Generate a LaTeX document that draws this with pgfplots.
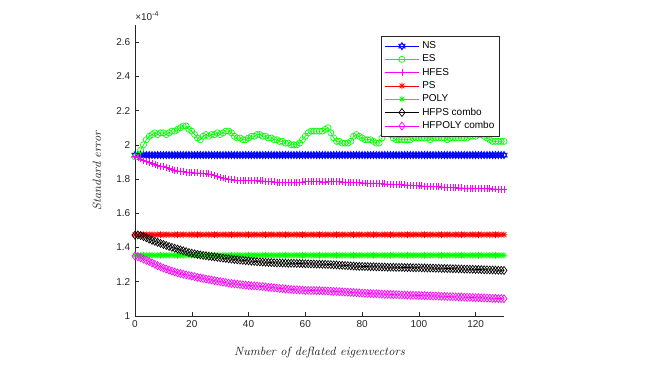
\documentclass[border=0pt]{standalone}
\usepackage{fontspec}
\usepackage{pgfplots}
\pgfplotsset{compat=1.18}
\usepackage{pgfplotstable}
\newfontfamily\arialfont{Liberation Sans}
\definecolor{axgray}{RGB}{38,38,38}
\definecolor{mgreen}{RGB}{0,255,0}
\definecolor{mmag}{RGB}{255,0,255}

% MATLAB-like markers
\pgfdeclareplotmark{hexagram}{%
  \pgfpathmoveto{\pgfqpointpolar{90}{\pgfplotmarksize}}%
  \pgfpathlineto{\pgfqpointpolar{210}{\pgfplotmarksize}}%
  \pgfpathlineto{\pgfqpointpolar{330}{\pgfplotmarksize}}%
  \pgfpathclose
  \pgfpathmoveto{\pgfqpointpolar{270}{\pgfplotmarksize}}%
  \pgfpathlineto{\pgfqpointpolar{30}{\pgfplotmarksize}}%
  \pgfpathlineto{\pgfqpointpolar{150}{\pgfplotmarksize}}%
  \pgfpathclose
  \pgfusepathqstroke}
\pgfdeclareplotmark{matstar}{%
  \pgfpathmoveto{\pgfqpoint{-\pgfplotmarksize}{0pt}}\pgfpathlineto{\pgfqpoint{\pgfplotmarksize}{0pt}}%
  \pgfpathmoveto{\pgfqpoint{0pt}{-\pgfplotmarksize}}\pgfpathlineto{\pgfqpoint{0pt}{\pgfplotmarksize}}%
  \pgfpathmoveto{\pgfqpoint{-.707\pgfplotmarksize}{-.707\pgfplotmarksize}}\pgfpathlineto{\pgfqpoint{.707\pgfplotmarksize}{.707\pgfplotmarksize}}%
  \pgfpathmoveto{\pgfqpoint{-.707\pgfplotmarksize}{.707\pgfplotmarksize}}\pgfpathlineto{\pgfqpoint{.707\pgfplotmarksize}{-.707\pgfplotmarksize}}%
  \pgfusepathqstroke}

% standard error, units of 1e-4
\pgfplotstableread{
x NS ES HFES PS POLY HFPS HFPOLY
0 1.94 1.93 1.930 1.475 1.355 1.472 1.350
1 1.94 1.94 1.925 1.475 1.355 1.474 1.346
2 1.94 1.97 1.918 1.475 1.355 1.470 1.340
3 1.94 2.00 1.910 1.475 1.355 1.464 1.332
4 1.94 2.03 1.903 1.475 1.355 1.457 1.325
5 1.94 2.05 1.897 1.475 1.355 1.449 1.318
6 1.94 2.06 1.890 1.475 1.355 1.442 1.310
7 1.94 2.07 1.886 1.475 1.355 1.436 1.302
8 1.94 2.06 1.881 1.475 1.355 1.430 1.294
9 1.94 2.07 1.876 1.475 1.355 1.424 1.287
10 1.94 2.07 1.872 1.475 1.355 1.418 1.280
11 1.94 2.06 1.866 1.475 1.355 1.412 1.274
12 1.94 2.07 1.862 1.475 1.355 1.406 1.268
13 1.94 2.08 1.857 1.475 1.355 1.401 1.262
14 1.94 2.08 1.852 1.475 1.355 1.396 1.257
15 1.94 2.09 1.848 1.475 1.355 1.391 1.252
16 1.94 2.10 1.846 1.475 1.355 1.386 1.248
17 1.94 2.11 1.843 1.475 1.355 1.381 1.244
18 1.94 2.11 1.841 1.475 1.355 1.376 1.240
19 1.94 2.09 1.840 1.475 1.355 1.371 1.237
20 1.94 2.08 1.838 1.475 1.355 1.367 1.233
21 1.94 2.06 1.836 1.475 1.355 1.363 1.230
22 1.94 2.04 1.836 1.475 1.355 1.360 1.226
23 1.94 2.03 1.835 1.475 1.355 1.357 1.223
24 1.94 2.05 1.833 1.475 1.355 1.354 1.219
25 1.94 2.06 1.831 1.475 1.355 1.352 1.216
26 1.94 2.05 1.830 1.475 1.355 1.349 1.213
27 1.94 2.06 1.827 1.475 1.355 1.347 1.210
28 1.94 2.06 1.822 1.475 1.355 1.345 1.207
29 1.94 2.07 1.816 1.475 1.355 1.343 1.204
30 1.94 2.06 1.811 1.475 1.355 1.340 1.201
31 1.94 2.07 1.806 1.475 1.355 1.338 1.198
32 1.94 2.08 1.802 1.475 1.355 1.336 1.195
33 1.94 2.08 1.800 1.475 1.355 1.334 1.192
34 1.94 2.07 1.797 1.475 1.355 1.332 1.190
35 1.94 2.05 1.795 1.475 1.355 1.330 1.188
36 1.94 2.04 1.793 1.475 1.355 1.328 1.186
37 1.94 2.04 1.792 1.475 1.355 1.326 1.184
38 1.94 2.03 1.791 1.475 1.355 1.325 1.182
39 1.94 2.03 1.790 1.475 1.355 1.323 1.180
40 1.94 2.04 1.790 1.475 1.355 1.322 1.179
41 1.94 2.05 1.790 1.475 1.355 1.320 1.177
42 1.94 2.05 1.791 1.475 1.355 1.319 1.176
43 1.94 2.06 1.790 1.475 1.355 1.317 1.175
44 1.94 2.06 1.789 1.475 1.355 1.316 1.173
45 1.94 2.05 1.789 1.475 1.355 1.315 1.172
46 1.94 2.05 1.787 1.475 1.355 1.314 1.170
47 1.94 2.04 1.785 1.475 1.355 1.313 1.168
48 1.94 2.04 1.784 1.475 1.355 1.312 1.167
49 1.94 2.03 1.783 1.475 1.355 1.311 1.165
50 1.94 2.03 1.782 1.475 1.355 1.310 1.163
51 1.94 2.02 1.781 1.475 1.355 1.310 1.161
52 1.94 2.02 1.780 1.475 1.355 1.309 1.160
53 1.94 2.01 1.780 1.475 1.355 1.309 1.158
54 1.94 2.01 1.779 1.475 1.355 1.308 1.157
55 1.94 2.00 1.779 1.475 1.355 1.308 1.155
56 1.94 2.00 1.778 1.475 1.355 1.308 1.154
57 1.94 2.00 1.779 1.475 1.355 1.307 1.153
58 1.94 2.01 1.781 1.475 1.355 1.307 1.152
59 1.94 2.03 1.783 1.475 1.355 1.306 1.151
60 1.94 2.05 1.785 1.475 1.355 1.305 1.150
61 1.94 2.07 1.786 1.475 1.355 1.305 1.150
62 1.94 2.08 1.786 1.475 1.355 1.304 1.149
63 1.94 2.08 1.785 1.475 1.355 1.304 1.149
64 1.94 2.08 1.785 1.475 1.355 1.303 1.148
65 1.94 2.08 1.784 1.475 1.355 1.303 1.148
66 1.94 2.08 1.783 1.475 1.355 1.302 1.147
67 1.94 2.09 1.783 1.475 1.355 1.302 1.147
68 1.94 2.10 1.784 1.475 1.355 1.301 1.146
69 1.94 2.07 1.785 1.475 1.355 1.300 1.145
70 1.94 2.04 1.786 1.475 1.355 1.299 1.144
71 1.94 2.02 1.785 1.475 1.355 1.298 1.143
72 1.94 2.02 1.784 1.475 1.355 1.297 1.142
73 1.94 2.01 1.783 1.475 1.355 1.296 1.141
74 1.94 2.01 1.782 1.475 1.355 1.295 1.140
75 1.94 2.01 1.781 1.475 1.355 1.294 1.139
76 1.94 2.02 1.780 1.475 1.355 1.293 1.138
77 1.94 2.05 1.779 1.475 1.355 1.292 1.137
78 1.94 2.06 1.778 1.475 1.355 1.291 1.136
79 1.94 2.05 1.778 1.475 1.355 1.290 1.135
80 1.94 2.04 1.777 1.475 1.355 1.290 1.134
81 1.94 2.03 1.777 1.475 1.355 1.289 1.133
82 1.94 2.03 1.776 1.475 1.355 1.289 1.132
83 1.94 2.03 1.776 1.475 1.355 1.288 1.131
84 1.94 2.02 1.775 1.475 1.355 1.288 1.130
85 1.94 2.01 1.775 1.475 1.355 1.287 1.130
86 1.94 2.01 1.774 1.475 1.355 1.287 1.129
87 1.94 2.04 1.773 1.475 1.355 1.286 1.128
88 1.94 2.08 1.772 1.475 1.355 1.286 1.127
89 1.94 2.07 1.771 1.475 1.355 1.285 1.127
90 1.94 2.06 1.770 1.475 1.355 1.285 1.126
91 1.94 2.04 1.769 1.475 1.355 1.285 1.125
92 1.94 2.03 1.768 1.475 1.355 1.284 1.125
93 1.94 2.03 1.768 1.475 1.355 1.284 1.124
94 1.94 2.03 1.767 1.475 1.355 1.284 1.123
95 1.94 2.03 1.766 1.475 1.355 1.283 1.123
96 1.94 2.03 1.765 1.475 1.355 1.283 1.122
97 1.94 2.03 1.764 1.475 1.355 1.283 1.121
98 1.94 2.04 1.763 1.475 1.355 1.282 1.121
99 1.94 2.04 1.762 1.475 1.355 1.282 1.120
100 1.94 2.04 1.761 1.475 1.355 1.282 1.120
101 1.94 2.04 1.760 1.475 1.355 1.281 1.119
102 1.94 2.04 1.759 1.475 1.355 1.281 1.119
103 1.94 2.04 1.758 1.475 1.355 1.280 1.118
104 1.94 2.03 1.758 1.475 1.355 1.280 1.118
105 1.94 2.04 1.757 1.475 1.355 1.280 1.117
106 1.94 2.04 1.756 1.475 1.355 1.279 1.117
107 1.94 2.04 1.755 1.475 1.355 1.279 1.116
108 1.94 2.04 1.754 1.475 1.355 1.278 1.115
109 1.94 2.04 1.753 1.475 1.355 1.278 1.115
110 1.94 2.03 1.752 1.475 1.355 1.277 1.114
111 1.94 2.04 1.751 1.475 1.355 1.277 1.113
112 1.94 2.04 1.750 1.475 1.355 1.276 1.113
113 1.94 2.04 1.749 1.475 1.355 1.276 1.112
114 1.94 2.04 1.748 1.475 1.355 1.275 1.111
115 1.94 2.04 1.748 1.475 1.355 1.275 1.111
116 1.94 2.04 1.747 1.475 1.355 1.274 1.110
117 1.94 2.04 1.747 1.475 1.355 1.274 1.109
118 1.94 2.05 1.746 1.475 1.355 1.273 1.109
119 1.94 2.05 1.746 1.475 1.355 1.273 1.108
120 1.94 2.05 1.745 1.475 1.355 1.272 1.107
121 1.94 2.06 1.745 1.475 1.355 1.272 1.107
122 1.94 2.06 1.744 1.475 1.355 1.271 1.106
123 1.94 2.05 1.744 1.475 1.355 1.270 1.105
124 1.94 2.04 1.743 1.475 1.355 1.270 1.105
125 1.94 2.03 1.743 1.475 1.355 1.269 1.104
126 1.94 2.02 1.742 1.475 1.355 1.269 1.103
127 1.94 2.02 1.742 1.475 1.355 1.268 1.103
128 1.94 2.02 1.741 1.475 1.355 1.267 1.102
129 1.94 2.02 1.741 1.475 1.355 1.267 1.102
130 1.94 2.02 1.740 1.475 1.355 1.266 1.101
}\stderrdata

\begin{document}
\begin{tikzpicture}
\useasboundingbox (-101.25pt,-40.5pt) rectangle (392.25pt,237pt);
\begin{axis}[
  at={(0,0)},anchor=south west,
  width=276.75pt,height=218.25pt,scale only axis,
  xmin=0,xmax=130,ymin=1,ymax=2.7,
  xtick={0,20,40,60,80,100,120},
  ytick={1,1.2,1.4,1.6,1.8,2,2.2,2.4,2.6},
  axis x line*=bottom,axis y line*=left,
  tick align=inside,major tick length=3pt,
  axis line style={axgray,line width=0.4pt},
  tick style={axgray,line width=0.4pt},
  ticklabel style={font=\arialfont\fontsize{7.5}{9}\selectfont,text=axgray},
  /pgf/number format/assume math mode=true,
  xlabel={\textit{Number of deflated eigenvectors}},
  ylabel={\textit{Standard error}},
  label style={font=\fontsize{9}{11}\selectfont,text=axgray},
  xlabel style={at={(axis description cs:0.5,-0.127)},anchor=center},
  ylabel style={at={(axis description cs:-0.103,0.5)},anchor=center},
  clip=false,
  every axis plot/.append style={line width=0.5pt},
  every mark/.append style={solid},
  legend style={at={(0.989,0.962)},anchor=north east,draw=axgray,line width=0.4pt,
    font=\arialfont\fontsize{7.5}{9}\selectfont,row sep=-0.8pt,inner sep=2pt},
  legend cell align=left,
  legend image code/.code={\draw[mark repeat=2,mark phase=2] plot coordinates {(0pt,0pt)(13pt,0pt)(26pt,0pt)};},
]
\addplot[blue,mark=hexagram,mark size=2.8pt] table[x=x,y=NS] {\stderrdata};
\addplot[mgreen,mark=o,mark size=2.3pt] table[x=x,y=ES] {\stderrdata};
\addplot[mmag,mark=+,mark size=2.6pt] table[x=x,y=HFES] {\stderrdata};
\addplot[red,mark=matstar,mark size=2.5pt] table[x=x,y=PS] {\stderrdata};
\addplot[mgreen,mark=matstar,mark size=2.5pt] table[x=x,y=POLY] {\stderrdata};
\addplot[black,mark=diamond,mark size=3pt] table[x=x,y=HFPS] {\stderrdata};
\addplot[mmag,mark=diamond,mark size=3pt] table[x=x,y=HFPOLY] {\stderrdata};
\legend{NS,ES,HFES,PS,POLY,HFPS combo,HFPOLY combo}
\node[anchor=south west,inner sep=0pt,yshift=3pt,font=\arialfont\fontsize{7.5}{9}\selectfont,text=axgray]
  at (rel axis cs:0,1) {×10\textsuperscript{-4}};
\end{axis}
\end{tikzpicture}
\end{document}
